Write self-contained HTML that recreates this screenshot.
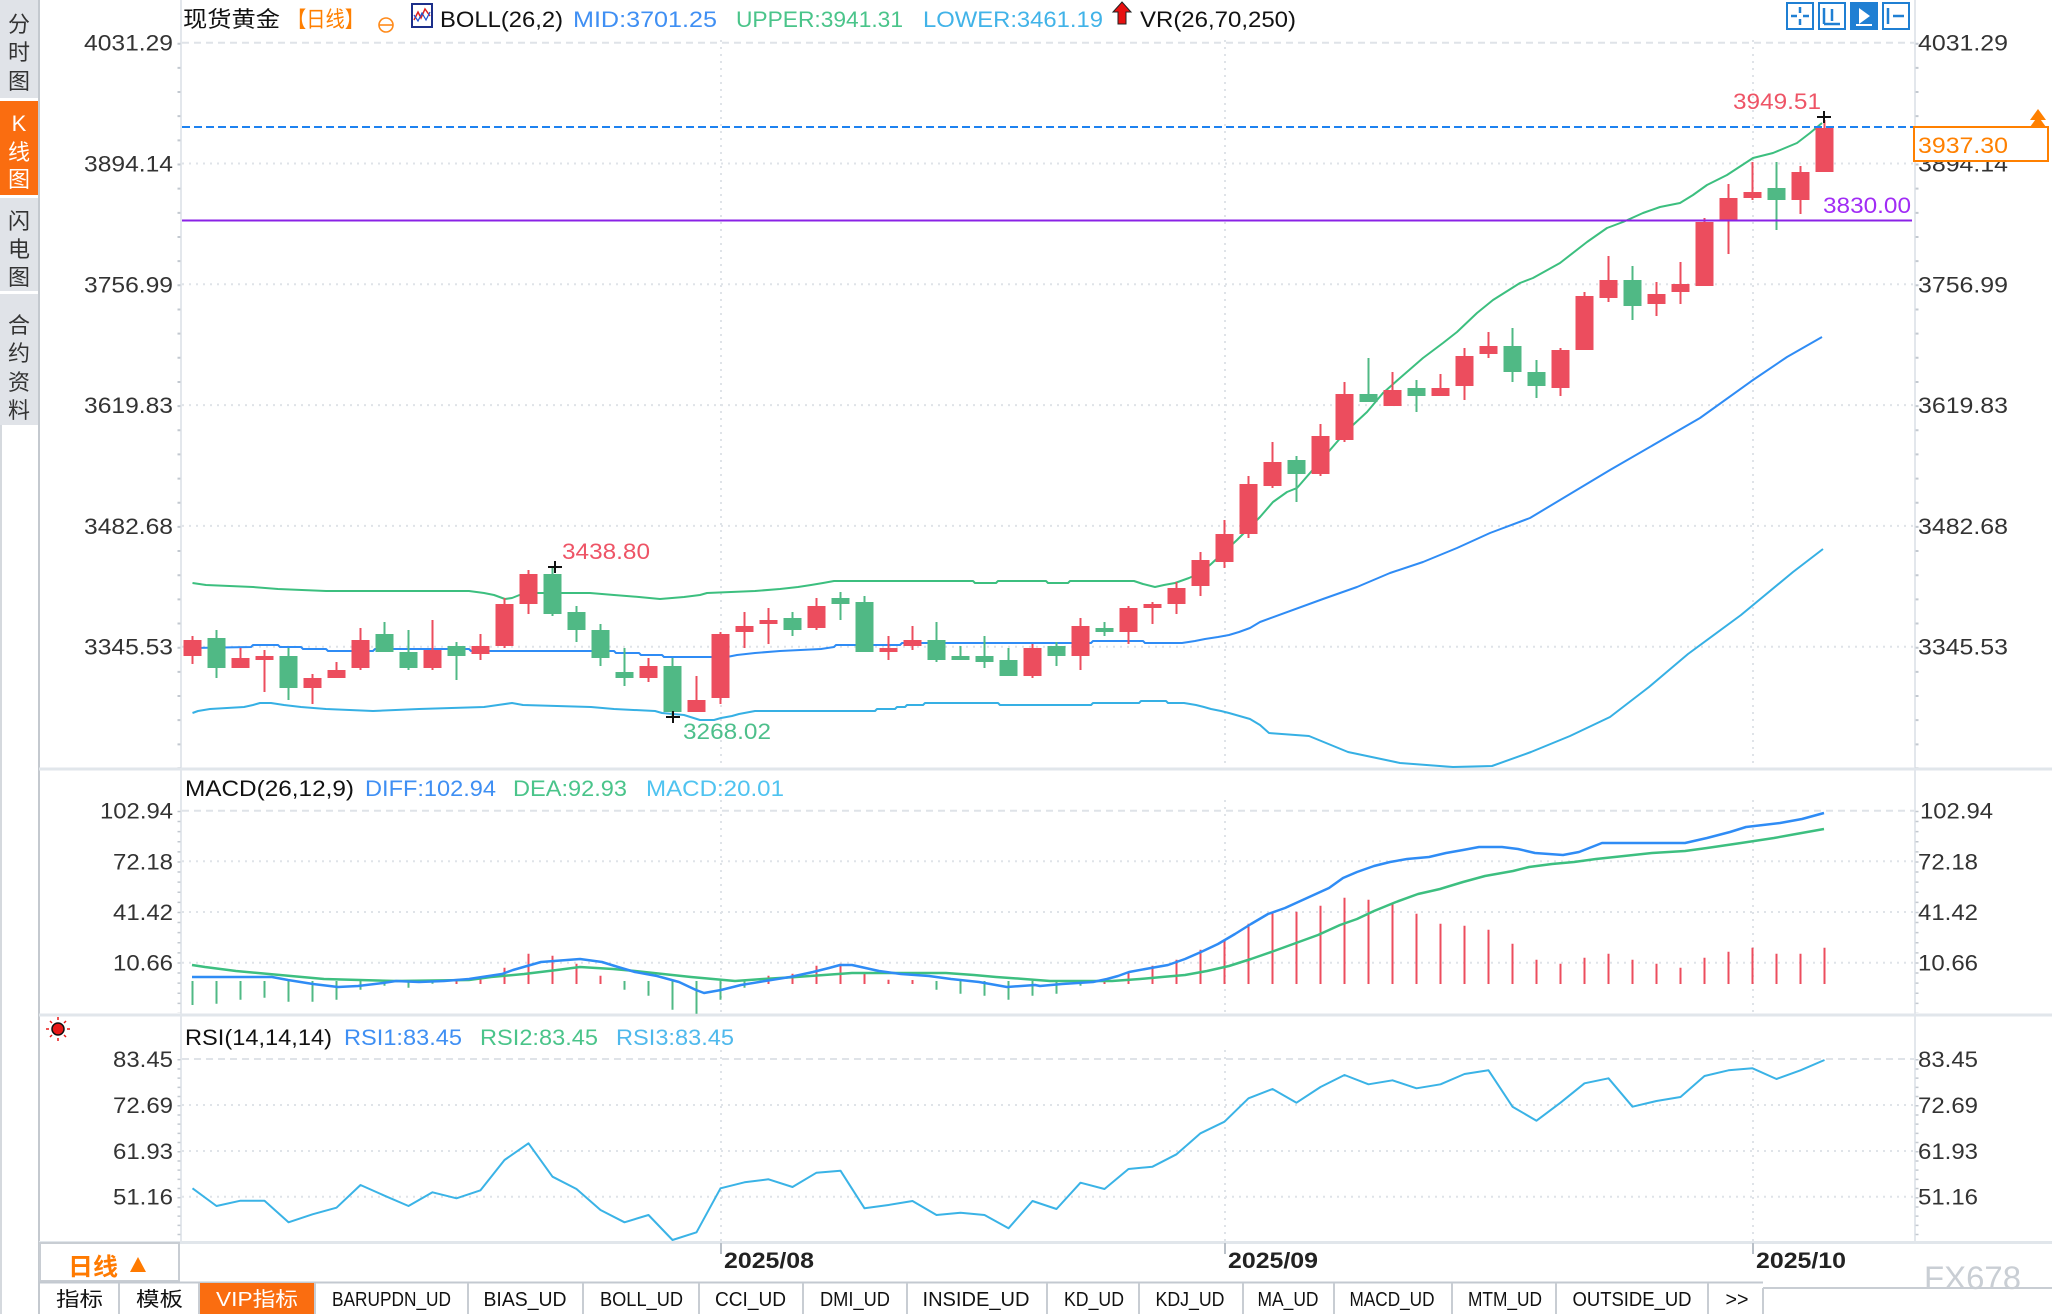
<!DOCTYPE html>
<html><head><meta charset="utf-8"><style>
html,body{margin:0;padding:0;background:#fff;}
svg{display:block;}
text{font-family:"Liberation Sans","Noto Sans CJK SC",sans-serif;}
.ax{font-size:22px;fill:#333;}
.tab{font-family:"Liberation Serif","Noto Serif CJK SC",serif;font-size:20px;fill:#111;}
</style></head><body>
<svg width="2052" height="1314" viewBox="0 0 2052 1314" xmlns="http://www.w3.org/2000/svg">
<rect width="2052" height="1314" fill="#fff"/>

<!-- Sidebar -->
<rect x="0" y="0" width="38" height="98" fill="#e0e3e8"/>
<rect x="0" y="101" width="38" height="94" fill="#fa6d10"/>
<rect x="0" y="198" width="38" height="93" fill="#e0e3e8"/>
<rect x="0" y="294" width="38" height="131" fill="#e0e3e8"/>
<g font-size="22" text-anchor="middle" fill="#333">
<text x="19" y="32">分</text><text x="19" y="60">时</text><text x="19" y="89">图</text>
<text x="19" y="131" fill="#fff" font-family="Liberation Serif,serif">K</text><text x="19" y="160" fill="#fff">线</text><text x="19" y="187" fill="#fff">图</text>
<text x="19" y="229">闪</text><text x="19" y="257">电</text><text x="19" y="285">图</text>
<text x="19" y="333">合</text><text x="19" y="361">约</text><text x="19" y="390">资</text><text x="19" y="418">料</text>
</g>
<line x1="1" y1="425" x2="1" y2="1314" stroke="#d5d9de" stroke-width="2"/>
<line x1="39" y1="0" x2="39" y2="1314" stroke="#c4c9cf" stroke-width="2"/>

<!-- panel borders -->
<line x1="181" y1="0" x2="181" y2="1242" stroke="#e3e7ec" stroke-width="2"/>
<line x1="1915" y1="0" x2="1915" y2="1242" stroke="#e3e7ec" stroke-width="2"/>
<line x1="39" y1="769" x2="2052" y2="769" stroke="#e1e6eb" stroke-width="3"/>
<line x1="39" y1="1015" x2="2052" y2="1015" stroke="#e1e6eb" stroke-width="3"/>
<line x1="39" y1="1242.5" x2="2052" y2="1242.5" stroke="#e1e6eb" stroke-width="3"/>

<!-- axis minor ticks -->
<g stroke="#c3c9d0" stroke-width="3">
<line x1="179" y1="42.7" x2="179" y2="768" stroke-dasharray="2 22.16"/>
<line x1="1917" y1="42.7" x2="1917" y2="768" stroke-dasharray="2 22.16"/>
<line x1="179" y1="810.7" x2="179" y2="1013" stroke-dasharray="1.5 8.6"/>
<line x1="1917" y1="810.7" x2="1917" y2="1013" stroke-dasharray="1.5 8.6"/>
<line x1="179" y1="1059" x2="179" y2="1240" stroke-dasharray="1.5 7.7"/>
<line x1="1917" y1="1059" x2="1917" y2="1240" stroke-dasharray="1.5 7.7"/>
</g>

<!-- gridlines -->
<g stroke="#dfe3e8" stroke-width="2" fill="none">
<line x1="182" y1="42.7" x2="1914" y2="42.7" stroke-dasharray="7 5"/>
<g stroke-dasharray="2 5">
<line x1="182" y1="163.5" x2="1914" y2="163.5"/>
<line x1="182" y1="284.3" x2="1914" y2="284.3"/>
<line x1="182" y1="405.1" x2="1914" y2="405.1"/>
<line x1="182" y1="525.9" x2="1914" y2="525.9"/>
<line x1="182" y1="646.7" x2="1914" y2="646.7"/>
<line x1="721" y1="40" x2="721" y2="768"/>
<line x1="1225" y1="40" x2="1225" y2="768"/>
<line x1="1753" y1="40" x2="1753" y2="768"/>
<line x1="182" y1="861.3" x2="1914" y2="861.3"/>
<line x1="182" y1="912" x2="1914" y2="912"/>
<line x1="182" y1="962.7" x2="1914" y2="962.7"/>
<line x1="721" y1="800" x2="721" y2="1014"/>
<line x1="1225" y1="800" x2="1225" y2="1014"/>
<line x1="1753" y1="800" x2="1753" y2="1014"/>
<line x1="182" y1="1105" x2="1914" y2="1105"/>
<line x1="182" y1="1151" x2="1914" y2="1151"/>
<line x1="182" y1="1196.7" x2="1914" y2="1196.7"/>
<line x1="721" y1="1050" x2="721" y2="1241"/>
<line x1="1225" y1="1050" x2="1225" y2="1241"/>
<line x1="1753" y1="1050" x2="1753" y2="1241"/>
</g>
<line x1="182" y1="810.7" x2="1914" y2="810.7" stroke-dasharray="7 5"/>
<line x1="182" y1="1059" x2="1914" y2="1059" stroke-dasharray="7 5"/>
</g>

<!-- Axis labels left -->
<g class="ax" text-anchor="end">
<text x="173" y="50.7" textLength="89" lengthAdjust="spacingAndGlyphs">4031.29</text>
<text x="173" y="171.5" textLength="89" lengthAdjust="spacingAndGlyphs">3894.14</text>
<text x="173" y="292.3" textLength="89" lengthAdjust="spacingAndGlyphs">3756.99</text>
<text x="173" y="413.1" textLength="89" lengthAdjust="spacingAndGlyphs">3619.83</text>
<text x="173" y="533.9" textLength="89" lengthAdjust="spacingAndGlyphs">3482.68</text>
<text x="173" y="654.7" textLength="89" lengthAdjust="spacingAndGlyphs">3345.53</text>
<text x="173" y="818.7" textLength="73" lengthAdjust="spacingAndGlyphs">102.94</text>
<text x="173" y="869.3" textLength="60" lengthAdjust="spacingAndGlyphs">72.18</text>
<text x="173" y="920" textLength="60" lengthAdjust="spacingAndGlyphs">41.42</text>
<text x="173" y="970.7" textLength="60" lengthAdjust="spacingAndGlyphs">10.66</text>
<text x="173" y="1067" textLength="60" lengthAdjust="spacingAndGlyphs">83.45</text>
<text x="173" y="1113" textLength="60" lengthAdjust="spacingAndGlyphs">72.69</text>
<text x="173" y="1159" textLength="60" lengthAdjust="spacingAndGlyphs">61.93</text>
<text x="173" y="1204.7" textLength="60" lengthAdjust="spacingAndGlyphs">51.16</text>
</g>
<!-- Axis labels right -->
<g class="ax">
<text x="1918" y="50.7" textLength="90" lengthAdjust="spacingAndGlyphs">4031.29</text>
<text x="1918" y="171.5" textLength="90" lengthAdjust="spacingAndGlyphs">3894.14</text>
<text x="1918" y="292.3" textLength="90" lengthAdjust="spacingAndGlyphs">3756.99</text>
<text x="1918" y="413.1" textLength="90" lengthAdjust="spacingAndGlyphs">3619.83</text>
<text x="1918" y="533.9" textLength="90" lengthAdjust="spacingAndGlyphs">3482.68</text>
<text x="1918" y="654.7" textLength="90" lengthAdjust="spacingAndGlyphs">3345.53</text>
<text x="1920" y="818.7" textLength="73" lengthAdjust="spacingAndGlyphs">102.94</text>
<text x="1918" y="869.3" textLength="60" lengthAdjust="spacingAndGlyphs">72.18</text>
<text x="1918" y="920" textLength="60" lengthAdjust="spacingAndGlyphs">41.42</text>
<text x="1918" y="970.7" textLength="60" lengthAdjust="spacingAndGlyphs">10.66</text>
<text x="1918" y="1067" textLength="60" lengthAdjust="spacingAndGlyphs">83.45</text>
<text x="1918" y="1113" textLength="60" lengthAdjust="spacingAndGlyphs">72.69</text>
<text x="1918" y="1159" textLength="60" lengthAdjust="spacingAndGlyphs">61.93</text>
<text x="1918" y="1204.7" textLength="60" lengthAdjust="spacingAndGlyphs">51.16</text>
</g>

<!-- Title row -->
<g font-size="22">
<text x="183" y="27" fill="#111" textLength="97" lengthAdjust="spacingAndGlyphs">现货黄金</text>
<text x="287" y="27" fill="#ff7f00" textLength="77" lengthAdjust="spacingAndGlyphs">【日线】</text>
<text x="440" y="27" fill="#111" textLength="123" lengthAdjust="spacingAndGlyphs">BOLL(26,2)</text>
<text x="573" y="27" fill="#3f8ff3" textLength="144" lengthAdjust="spacingAndGlyphs">MID:3701.25</text>
<text x="736" y="27" fill="#4ac48a" textLength="167" lengthAdjust="spacingAndGlyphs">UPPER:3941.31</text>
<text x="923" y="27" fill="#41b3e8" textLength="180" lengthAdjust="spacingAndGlyphs">LOWER:3461.19</text>
<text x="1140" y="27" fill="#111" textLength="156" lengthAdjust="spacingAndGlyphs">VR(26,70,250)</text>
</g>
<circle cx="386" cy="25" r="7" fill="none" stroke="#ff8a1a" stroke-width="1.6"/>
<line x1="379" y1="25" x2="393" y2="25" stroke="#ff8a1a" stroke-width="1.6"/>
<rect x="412" y="4" width="20" height="23" fill="#fff" stroke="#1c2f8a" stroke-width="2"/>
<polyline points="414,20 418,12 421,18 425,9 430,16" fill="none" stroke="#e02020" stroke-width="1.5"/>
<polyline points="414,15 418,21 422,13 426,20 430,12" fill="none" stroke="#2050d0" stroke-width="1.2"/>
<polygon points="1122,2 1131,12 1126,12 1126,24 1118,24 1118,12 1113,12" fill="#e81010" stroke="#222" stroke-width="1"/>

<!-- top right icons -->
<g stroke="#1f7fd3" stroke-width="2" fill="#fff">
<rect x="1787" y="3" width="26" height="26"/>
<rect x="1819" y="3" width="26" height="26"/>
<rect x="1851" y="3" width="26" height="26" fill="#1f7fd3"/>
<rect x="1883" y="3" width="26" height="26"/>
</g>
<g stroke="#1f7fd3" stroke-width="2.5">
<line x1="1800" y1="7" x2="1800" y2="13"/><line x1="1800" y1="19" x2="1800" y2="25"/>
<line x1="1791" y1="16" x2="1797" y2="16"/><line x1="1803" y1="16" x2="1809" y2="16"/>
<line x1="1824" y1="8" x2="1824" y2="24"/><line x1="1824" y1="24" x2="1840" y2="24"/><line x1="1832" y1="9" x2="1832" y2="21"/>
<line x1="1888" y1="8" x2="1888" y2="24"/><line x1="1893" y1="16" x2="1904" y2="16"/>
</g>
<polygon points="1859,8 1870,16 1859,24" fill="#fff"/>
<line x1="1856" y1="25" x2="1872" y2="25" stroke="#fff" stroke-width="2"/>

<!-- Bollinger bands -->
<g fill="none" stroke-width="2" stroke-linejoin="round">
<polyline stroke="#3cbf7f" points="192.5,583 206,585 253,587 278,589 326,591 469,591 484,593 494,595 505,599 512,598 522,594 530,593 590,593 614,595 639,597 660,599 684,597 700,595 707,593 755,591 780,589 798,587 811,585 823,583 834,581 973,581 975,583 996,583 998,581 1046,581 1048,583 1068,583 1070,581 1134,581 1143,584 1155,587 1164,585 1175,583 1189,578 1200,573 1210,565 1237,540 1260,517 1273,502 1287,492 1297,488 1310,473 1330,450 1343,435 1353,425 1367,412 1383,393 1400,378 1423,358 1443,343 1457,332 1477,313 1493,300 1520,283 1533,278 1560,263 1587,242 1607,228 1623,222 1643,213 1660,207 1680,203 1693,195 1707,185 1727,175 1753,158 1773,153 1797,143 1810,133 1822,123"/>
<polyline stroke="#2f8cf5" points="192.5,648 251,647 253,645 278,645 280,647 301,647 303,649 326,649 328,651 373,651 375,649 469,649 471,651 614,651 616,653 639,653 641,655 662,655 664,657 727,657 737,655 755,653 780,651 821,649 834,647 836,645 900,645 902,643 1091,643 1093,641 1143,641 1145,643 1182,643 1195,641 1205,639 1218,637 1229,635 1239,632 1250,628 1260,622 1323,599 1357,587 1390,573 1423,562 1457,548 1490,533 1530,518 1610,470 1700,418 1753,380 1787,357 1822,337"/>
<polyline stroke="#36b0e4" points="192.5,713 198,711 210,709 244,707 253,705 260,703 271,703 284,705 301,707 326,709 373,711 419,709 484,707 498,705 512,703 523,705 591,707 614,709 655,711 662,713 684,715 700,720 714,720 721,718 732,716 739,714 755,711 875,711 877,709 895,709 897,707 905,707 907,705 923,705 925,703 998,703 1000,705 1091,705 1093,703 1139,703 1141,701 1166,701 1168,703 1184,703 1196,705 1204,707 1211,709 1221,711 1229,713 1236,715 1243,717 1250,719 1260,725 1269,733 1309,736 1348,752 1400,763 1453,767 1492,766 1531,752 1570,736 1610,717 1649,687 1688,654 1741,615 1793,572 1823,549"/>
</g>

<!-- Candles: red -->
<g fill="#ec4d5e">
<rect x="191.5" y="636" width="2" height="28"/><rect x="183.5" y="640" width="18" height="16"/>
<rect x="239.5" y="648" width="2" height="20"/><rect x="231.5" y="658" width="18" height="10"/>
<rect x="263.5" y="650" width="2" height="42"/><rect x="255.5" y="656" width="18" height="4"/>
<rect x="311.5" y="674" width="2" height="30"/><rect x="303.5" y="678" width="18" height="10"/>
<rect x="335.5" y="662" width="2" height="16"/><rect x="327.5" y="670" width="18" height="8"/>
<rect x="359.5" y="628" width="2" height="42"/><rect x="351.5" y="640" width="18" height="28"/>
<rect x="431.5" y="620" width="2" height="50"/><rect x="423.5" y="650" width="18" height="18"/>
<rect x="479.5" y="634" width="2" height="26"/><rect x="471.5" y="646" width="18" height="8"/>
<rect x="503.5" y="598" width="2" height="50"/><rect x="495.5" y="604" width="18" height="42"/>
<rect x="527.5" y="570" width="2" height="44"/><rect x="519.5" y="574" width="18" height="30"/>
<rect x="647.5" y="658" width="2" height="24"/><rect x="639.5" y="666" width="18" height="12"/>
<rect x="695.5" y="676" width="2" height="36"/><rect x="687.5" y="700" width="18" height="12"/>
<rect x="719.5" y="632" width="2" height="72"/><rect x="711.5" y="634" width="18" height="64"/>
<rect x="743.5" y="612" width="2" height="36"/><rect x="735.5" y="626" width="18" height="6"/>
<rect x="767.5" y="608" width="2" height="36"/><rect x="759.5" y="620" width="18" height="4"/>
<rect x="815.5" y="598" width="2" height="32"/><rect x="807.5" y="606" width="18" height="22"/>
<rect x="887.5" y="636" width="2" height="24"/><rect x="879.5" y="648" width="18" height="4"/>
<rect x="911.5" y="626" width="2" height="24"/><rect x="903.5" y="640" width="18" height="6"/>
<rect x="1031.5" y="644" width="2" height="34"/><rect x="1023.5" y="648" width="18" height="28"/>
<rect x="1079.5" y="618" width="2" height="52"/><rect x="1071.5" y="626" width="18" height="30"/>
<rect x="1127.5" y="606" width="2" height="38"/><rect x="1119.5" y="608" width="18" height="24"/>
<rect x="1151.5" y="602" width="2" height="22"/><rect x="1143.5" y="604" width="18" height="4"/>
<rect x="1175.5" y="582" width="2" height="32"/><rect x="1167.5" y="588" width="18" height="16"/>
<rect x="1199.5" y="552" width="2" height="44"/><rect x="1191.5" y="560" width="18" height="26"/>
<rect x="1223.5" y="520" width="2" height="48"/><rect x="1215.5" y="534" width="18" height="28"/>
<rect x="1247.5" y="476" width="2" height="62"/><rect x="1239.5" y="484" width="18" height="50"/>
<rect x="1271.5" y="442" width="2" height="46"/><rect x="1263.5" y="462" width="18" height="24"/>
<rect x="1319.5" y="424" width="2" height="52"/><rect x="1311.5" y="436" width="18" height="38"/>
<rect x="1343.5" y="382" width="2" height="60"/><rect x="1335.5" y="394" width="18" height="46"/>
<rect x="1391.5" y="372" width="2" height="34"/><rect x="1383.5" y="390" width="18" height="16"/>
<rect x="1439.5" y="374" width="2" height="22"/><rect x="1431.5" y="388" width="18" height="8"/>
<rect x="1463.5" y="348" width="2" height="52"/><rect x="1455.5" y="356" width="18" height="30"/>
<rect x="1487.5" y="332" width="2" height="26"/><rect x="1479.5" y="346" width="18" height="8"/>
<rect x="1559.5" y="348" width="2" height="48"/><rect x="1551.5" y="350" width="18" height="38"/>
<rect x="1583.5" y="292" width="2" height="58"/><rect x="1575.5" y="296" width="18" height="54"/>
<rect x="1607.5" y="256" width="2" height="46"/><rect x="1599.5" y="280" width="18" height="18"/>
<rect x="1655.5" y="282" width="2" height="34"/><rect x="1647.5" y="294" width="18" height="10"/>
<rect x="1679.5" y="262" width="2" height="42"/><rect x="1671.5" y="284" width="18" height="8"/>
<rect x="1703.5" y="218" width="2" height="68"/><rect x="1695.5" y="222" width="18" height="64"/>
<rect x="1727.5" y="184" width="2" height="70"/><rect x="1719.5" y="198" width="18" height="22"/>
<rect x="1751.5" y="162" width="2" height="38"/><rect x="1743.5" y="192" width="18" height="6"/>
<rect x="1799.5" y="166" width="2" height="48"/><rect x="1791.5" y="172" width="18" height="28"/>
<rect x="1823.5" y="120" width="2" height="52"/><rect x="1815.5" y="128" width="18" height="44"/>
</g>
<!-- Candles: green -->
<g fill="#50b985">
<rect x="215.5" y="630" width="2" height="48"/><rect x="207.5" y="638" width="18" height="30"/>
<rect x="287.5" y="648" width="2" height="52"/><rect x="279.5" y="656" width="18" height="32"/>
<rect x="383.5" y="622" width="2" height="30"/><rect x="375.5" y="634" width="18" height="18"/>
<rect x="407.5" y="630" width="2" height="40"/><rect x="399.5" y="652" width="18" height="16"/>
<rect x="455.5" y="642" width="2" height="38"/><rect x="447.5" y="646" width="18" height="10"/>
<rect x="551.5" y="568" width="2" height="48"/><rect x="543.5" y="574" width="18" height="40"/>
<rect x="575.5" y="606" width="2" height="36"/><rect x="567.5" y="612" width="18" height="18"/>
<rect x="599.5" y="624" width="2" height="42"/><rect x="591.5" y="630" width="18" height="28"/>
<rect x="623.5" y="648" width="2" height="38"/><rect x="615.5" y="672" width="18" height="6"/>
<rect x="671.5" y="658" width="2" height="58"/><rect x="663.5" y="666" width="18" height="46"/>
<rect x="791.5" y="612" width="2" height="24"/><rect x="783.5" y="618" width="18" height="12"/>
<rect x="839.5" y="592" width="2" height="28"/><rect x="831.5" y="598" width="18" height="6"/>
<rect x="863.5" y="596" width="2" height="56"/><rect x="855.5" y="602" width="18" height="50"/>
<rect x="935.5" y="622" width="2" height="40"/><rect x="927.5" y="640" width="18" height="20"/>
<rect x="959.5" y="646" width="2" height="14"/><rect x="951.5" y="656" width="18" height="4"/>
<rect x="983.5" y="636" width="2" height="32"/><rect x="975.5" y="656" width="18" height="6"/>
<rect x="1007.5" y="648" width="2" height="28"/><rect x="999.5" y="660" width="18" height="16"/>
<rect x="1055.5" y="642" width="2" height="24"/><rect x="1047.5" y="646" width="18" height="10"/>
<rect x="1103.5" y="622" width="2" height="14"/><rect x="1095.5" y="628" width="18" height="4"/>
<rect x="1295.5" y="456" width="2" height="46"/><rect x="1287.5" y="460" width="18" height="14"/>
<rect x="1367.5" y="358" width="2" height="44"/><rect x="1359.5" y="394" width="18" height="8"/>
<rect x="1415.5" y="380" width="2" height="32"/><rect x="1407.5" y="388" width="18" height="8"/>
<rect x="1511.5" y="328" width="2" height="54"/><rect x="1503.5" y="346" width="18" height="26"/>
<rect x="1535.5" y="360" width="2" height="38"/><rect x="1527.5" y="372" width="18" height="14"/>
<rect x="1631.5" y="266" width="2" height="54"/><rect x="1623.5" y="280" width="18" height="26"/>
<rect x="1775.5" y="162" width="2" height="68"/><rect x="1767.5" y="188" width="18" height="12"/>
</g>

<!-- price lines -->
<line x1="182" y1="127" x2="1913" y2="127" stroke="#1e82f0" stroke-width="2" stroke-dasharray="8 4"/>
<line x1="182" y1="220.5" x2="1912" y2="220.5" stroke="#8a22e6" stroke-width="2"/>

<!-- markers & labels -->
<g stroke="#111" stroke-width="2">
<line x1="548" y1="567" x2="562" y2="567"/><line x1="555" y1="561" x2="555" y2="573"/>
<line x1="666" y1="717" x2="680" y2="717"/><line x1="673" y1="711" x2="673" y2="723"/>
<line x1="1817" y1="117" x2="1831" y2="117"/><line x1="1824" y1="111" x2="1824" y2="123"/>
</g>
<g font-size="22">
<text x="562" y="559" fill="#ee5466" textLength="88" lengthAdjust="spacingAndGlyphs">3438.80</text>
<text x="683" y="739" fill="#4dbf8b" textLength="88" lengthAdjust="spacingAndGlyphs">3268.02</text>
<text x="1733" y="109" fill="#ee5466" textLength="88" lengthAdjust="spacingAndGlyphs">3949.51</text>
<text x="1911" y="213" fill="#a12cf5" text-anchor="end" textLength="88" lengthAdjust="spacingAndGlyphs">3830.00</text>
</g>
<rect x="1914" y="127" width="134" height="34" fill="#fff" stroke="#ff8000" stroke-width="2"/>
<text x="1918" y="153" font-size="22" fill="#ff8000" textLength="90" lengthAdjust="spacingAndGlyphs">3937.30</text>
<polygon points="2038,109 2046,120 2030,120" fill="#ff8000"/>
<polygon points="2038,116 2046,127 2030,127" fill="#ff8000"/>

<!-- MACD panel -->
<g font-size="22">
<text x="185" y="796" fill="#111" textLength="169" lengthAdjust="spacingAndGlyphs">MACD(26,12,9)</text>
<text x="365" y="796" fill="#3f8ff3" textLength="131" lengthAdjust="spacingAndGlyphs">DIFF:102.94</text>
<text x="513" y="796" fill="#4ac48a" textLength="114" lengthAdjust="spacingAndGlyphs">DEA:92.93</text>
<text x="646" y="796" fill="#4fc3f0" textLength="138" lengthAdjust="spacingAndGlyphs">MACD:20.01</text>
</g>
<path stroke="#50b985" stroke-width="2" fill="none" d="M192.5 981V1005M216.5 981V1003.7M240.5 981V999.7M264.5 981V997.7M288.5 981V1001.7M312.5 981V1001.7M336.5 981V999.7M360.5 981V989.7M384.5 981V985.7M408.5 981V987.7M432.5 981V983.7M624.5 981V989.7M648.5 981V995.7M672.5 981V1009.7M696.5 981V1013.7M720.5 981V999.7M744.5 981V987.7M936.5 981V989.7M960.5 981V993.7M984.5 981V995.7M1008.5 981V999.7M1032.5 981V995.7M1056.5 981V993.7M1080.5 981V985.7"/>
<path stroke="#ec4d5e" stroke-width="2" fill="none" d="M456.5 984V980M480.5 984V977.7M504.5 984V967.7M528.5 984V953.7M552.5 984V955.7M576.5 984V963.7M600.5 984V975.7M768.5 984V975.7M792.5 984V973.7M816.5 984V965.7M840.5 984V963.7M864.5 984V973.7M888.5 984V979.7M912.5 984V980M1104.5 984V979.7M1128.5 984V971.7M1152.5 984V965.7M1176.5 984V959.7M1200.5 984V949.7M1224.5 984V939.7M1248.5 984V923.7M1272.5 984V911.7M1296.5 984V911.7M1320.5 984V905.7M1344.5 984V897.7M1368.5 984V899.7M1392.5 984V903.7M1416.5 984V913.7M1440.5 984V923.7M1464.5 984V925.7M1488.5 984V929.7M1512.5 984V943.7M1536.5 984V959.7M1560.5 984V963.7M1584.5 984V957.7M1608.5 984V953.7M1632.5 984V959.7M1656.5 984V963.7M1680.5 984V967.7M1704.5 984V957.7M1728.5 984V951.7M1752.5 984V947.7M1776.5 984V953.7M1800.5 984V953.7M1824.5 984V947.7"/>
<g fill="none" stroke-width="2.5" stroke-linejoin="round">
<polyline stroke="#3dbf80" points="192,965 205,967 236,971 269,974 302,977 324,979 396,981 469,980 491,977 524,974 557,970 580,967 613,969 635,971 663,974 691,977 713,979 735,981 763,979 796,977 824,975 852,973 946,973 974,975 996,977 1024,979 1050,981 1112,981 1140,979 1162,977 1185,975 1207,971 1229,966 1251,959 1274,951 1296,943 1318,935 1340,925 1357,919 1374,911 1396,902 1418,894 1440,889 1463,882 1485,876 1513,871 1529,867 1552,864 1574,862 1596,859 1624,856 1652,853 1685,851 1707,848 1741,843 1774,838 1796,834 1824,829"/>
<polyline stroke="#2f8cf5" points="192,977 272,977 288,980 313,984 338,987 358,986 383,983 396,981 419,982 444,981 469,979 482,977 502,974 513,970 541,962 580,959 602,962 618,967 635,972 657,976 679,982 696,990 704,993 721,990 741,985 765,981 790,977 813,972 829,968 840,965 852,965 879,971 901,974 929,976 951,979 979,982 1007,987 1035,985 1040,986 1062,984 1093,982 1107,979 1118,976 1129,972 1151,968 1168,965 1185,959 1201,952 1218,944 1235,934 1251,924 1268,914 1285,908 1307,898 1329,888 1343,878 1357,872 1374,866 1390,862 1407,859 1429,857 1446,853 1463,850 1479,847 1502,847 1518,849 1535,853 1563,855 1579,852 1602,843 1685,843 1707,838 1730,832 1746,827 1780,823 1802,819 1824,813"/>
</g>

<!-- RSI panel -->
<g>
<circle cx="58" cy="1029" r="6" fill="#e81818" stroke="#111" stroke-width="1.5"/>
<g stroke="#e81818" stroke-width="1.5">
<line x1="58" y1="1017" x2="58" y2="1020"/><line x1="58" y1="1038" x2="58" y2="1041"/>
<line x1="46" y1="1029" x2="49" y2="1029"/><line x1="67" y1="1029" x2="70" y2="1029"/>
<line x1="50" y1="1021" x2="52" y2="1023"/><line x1="64" y1="1035" x2="66" y2="1037"/>
<line x1="66" y1="1021" x2="64" y2="1023"/><line x1="50" y1="1037" x2="52" y2="1035"/>
</g>
</g>
<g font-size="22">
<text x="185" y="1045" fill="#111" textLength="147" lengthAdjust="spacingAndGlyphs">RSI(14,14,14)</text>
<text x="344" y="1045" fill="#3f8ff3" textLength="118" lengthAdjust="spacingAndGlyphs">RSI1:83.45</text>
<text x="480" y="1045" fill="#4ac48a" textLength="118" lengthAdjust="spacingAndGlyphs">RSI2:83.45</text>
<text x="616" y="1045" fill="#4fb9ec" textLength="118" lengthAdjust="spacingAndGlyphs">RSI3:83.45</text>
</g>
<polyline fill="none" stroke="#3ab3e6" stroke-width="2" stroke-linejoin="round" points="192.5,1188.3 216.5,1206 240.5,1200.7 264.5,1200.7 288.5,1222.3 312.5,1214.3 336.5,1207.7 360.5,1185 384.5,1195.7 408.5,1206 432.5,1192.3 456.5,1198.3 480.5,1190.3 504.5,1160 528.5,1143.3 552.5,1176.7 576.5,1189 600.5,1210 624.5,1222.3 648.5,1215 672.5,1240 696.5,1232.3 720.5,1188.3 744.5,1182.3 768.5,1179.3 792.5,1187 816.5,1172.7 840.5,1170.7 864.5,1208.3 888.5,1205 912.5,1201 936.5,1215 960.5,1212.7 984.5,1215 1008.5,1228.3 1032.5,1201 1056.5,1209 1080.5,1182.7 1104.5,1189 1128.5,1169 1152.5,1166.7 1176.5,1154.3 1200.5,1133.3 1224.5,1121.7 1248.5,1098.3 1272.5,1089 1296.5,1102.7 1320.5,1087 1344.5,1075 1368.5,1084.3 1392.5,1080.3 1416.5,1088.3 1440.5,1084.3 1464.5,1074 1488.5,1070.3 1512.5,1106.7 1536.5,1120.7 1560.5,1102.7 1584.5,1083.3 1608.5,1078.3 1632.5,1106.7 1656.5,1101 1680.5,1097 1704.5,1076 1728.5,1070.3 1752.5,1068.3 1776.5,1079 1800.5,1070.3 1824.5,1060"/>

<!-- Date axis -->
<g stroke="#b9c0c8" stroke-width="2">
<line x1="721" y1="1243" x2="721" y2="1254"/>
<line x1="1225" y1="1243" x2="1225" y2="1254"/>
<line x1="1753" y1="1243" x2="1753" y2="1254"/>
</g>
<g font-size="22" font-weight="bold" fill="#222">
<text x="724" y="1268" textLength="90" lengthAdjust="spacingAndGlyphs">2025/08</text>
<text x="1228" y="1268" textLength="90" lengthAdjust="spacingAndGlyphs">2025/09</text>
<text x="1756" y="1268" textLength="90" lengthAdjust="spacingAndGlyphs">2025/10</text>
</g>
<rect x="40" y="1243" width="139" height="38" fill="#fff" stroke="#c8cdd3" stroke-width="2"/>
<text x="68" y="1275" font-size="24" font-weight="bold" fill="#ff7a00" textLength="50" lengthAdjust="spacingAndGlyphs">日线</text>
<polygon points="138,1257 146,1272 130,1272" fill="#ff7a00"/>
<text x="1924" y="1289" font-size="32" fill="#c9ced4" textLength="97" lengthAdjust="spacingAndGlyphs">FX678</text>

<!-- Bottom tabs -->
<line x1="39" y1="1282.5" x2="1763" y2="1282.5" stroke="#c3c9d0" stroke-width="2"/>
<rect x="199" y="1283" width="116" height="31" fill="#fa6d10"/>
<g stroke="#c8cdd3" stroke-width="2">
<line x1="119" y1="1283" x2="119" y2="1314"/><line x1="199" y1="1283" x2="199" y2="1314"/>
<line x1="315" y1="1283" x2="315" y2="1314"/><line x1="468" y1="1283" x2="468" y2="1314"/>
<line x1="583" y1="1283" x2="583" y2="1314"/><line x1="699" y1="1283" x2="699" y2="1314"/>
<line x1="803" y1="1283" x2="803" y2="1314"/><line x1="907" y1="1283" x2="907" y2="1314"/>
<line x1="1047" y1="1283" x2="1047" y2="1314"/><line x1="1139" y1="1283" x2="1139" y2="1314"/>
<line x1="1243" y1="1283" x2="1243" y2="1314"/><line x1="1334" y1="1283" x2="1334" y2="1314"/>
<line x1="1452" y1="1283" x2="1452" y2="1314"/><line x1="1556" y1="1283" x2="1556" y2="1314"/>
<line x1="1708" y1="1283" x2="1708" y2="1314"/>
<line x1="1763" y1="1288" x2="1763" y2="1314"/><line x1="1763" y1="1288" x2="2052" y2="1288"/>
</g>
<g class="tab" text-anchor="middle">
<text x="79.5" y="1306" textLength="47" lengthAdjust="spacingAndGlyphs">指标</text>
<text x="159.5" y="1306" textLength="47" lengthAdjust="spacingAndGlyphs">模板</text>
<text x="257" y="1306" fill="#fff" textLength="82" lengthAdjust="spacingAndGlyphs">VIP指标</text>
<text x="391.5" y="1306" textLength="119" lengthAdjust="spacingAndGlyphs">BARUPDN_UD</text>
<text x="525" y="1306" textLength="83" lengthAdjust="spacingAndGlyphs">BIAS_UD</text>
<text x="641.5" y="1306" textLength="83" lengthAdjust="spacingAndGlyphs">BOLL_UD</text>
<text x="750.5" y="1306" textLength="71" lengthAdjust="spacingAndGlyphs">CCI_UD</text>
<text x="855" y="1306" textLength="70" lengthAdjust="spacingAndGlyphs">DMI_UD</text>
<text x="976" y="1306" textLength="107" lengthAdjust="spacingAndGlyphs">INSIDE_UD</text>
<text x="1094" y="1306" textLength="60" lengthAdjust="spacingAndGlyphs">KD_UD</text>
<text x="1190" y="1306" textLength="69" lengthAdjust="spacingAndGlyphs">KDJ_UD</text>
<text x="1288" y="1306" textLength="61" lengthAdjust="spacingAndGlyphs">MA_UD</text>
<text x="1392" y="1306" textLength="85" lengthAdjust="spacingAndGlyphs">MACD_UD</text>
<text x="1505" y="1306" textLength="74" lengthAdjust="spacingAndGlyphs">MTM_UD</text>
<text x="1632" y="1306" textLength="119" lengthAdjust="spacingAndGlyphs">OUTSIDE_UD</text>
<text x="1737" y="1306" textLength="23" lengthAdjust="spacingAndGlyphs">&gt;&gt;</text>
</g>
</svg>
</body></html>
